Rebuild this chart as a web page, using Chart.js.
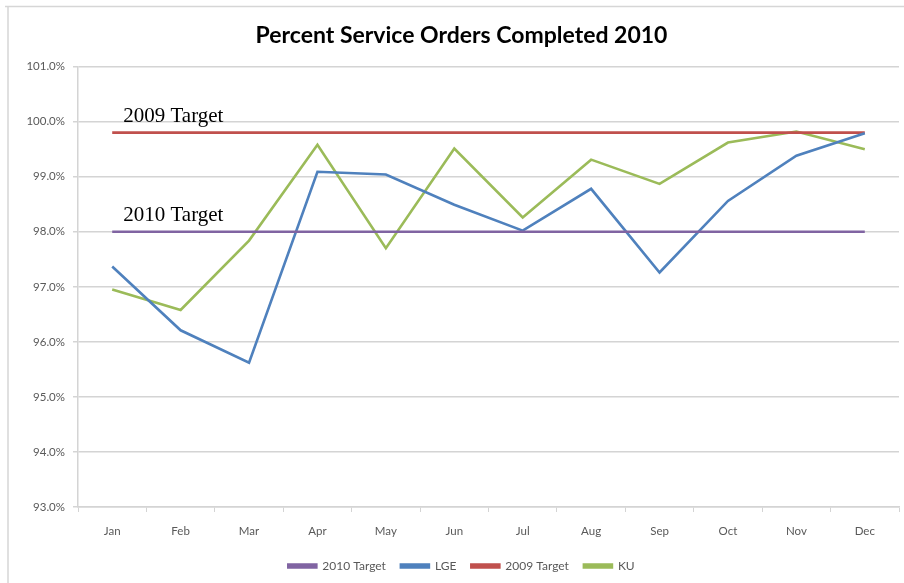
<!DOCTYPE html>
<html>
<head>
<meta charset="utf-8">
<script src="https://cdn.jsdelivr.net/npm/chart.js@4/dist/chart.umd.min.js"></script>
<style>
html,body{margin:0;padding:0;background:#fff;}
#wrap{position:relative;width:904px;height:583px;}
canvas{display:block;}
</style>
</head>
<body>
<div id="wrap"><canvas id="c" width="904" height="583"></canvas></div>
<script>
const months = ['Jan','Feb','Mar','Apr','May','Jun','Jul','Aug','Sep','Oct','Nov','Dec'];
const target2010 = [98.0,98.0,98.0,98.0,98.0,98.0,98.0,98.0,98.0,98.0,98.0,98.0];
const lge = [97.37,96.21,95.62,99.09,99.04,98.49,98.02,98.78,97.26,98.56,99.38,99.79];
const target2009 = [99.8,99.8,99.8,99.8,99.8,99.8,99.8,99.8,99.8,99.8,99.8,99.8];
const ku = [96.95,96.58,97.84,99.58,97.70,99.51,98.26,99.31,98.87,99.62,99.82,99.50];
const yMin = 93, yMax = 101, yStep = 1;
const targetLabels = [{text:'2009 Target', value:99.8}, {text:'2010 Target', value:98.0}];

const tickColor = '#595959';
const gridColor = '#d4d4d4';
const baseFont = 'Lato, "Open Sans", sans-serif';

const framePlugin = {
  id: 'frame',
  beforeDraw(chart) {
    const ctx = chart.ctx;
    ctx.save();
    ctx.strokeStyle = '#d6d6d6';
    ctx.lineWidth = 1.5;
    ctx.beginPath();
    ctx.moveTo(5, 6.5); ctx.lineTo(904, 6.5);
    ctx.moveTo(8, 6.5); ctx.lineTo(8, 583);
    ctx.stroke();
    ctx.restore();
  }
};

const targetTextPlugin = {
  id: 'targetText',
  afterDatasetsDraw(chart) {
    const ctx = chart.ctx;
    const xs = chart.scales.x, ys = chart.scales.y;
    ctx.save();
    ctx.font = '21px "Liberation Serif", "Times New Roman", serif';
    ctx.fillStyle = '#000';
    ctx.textAlign = 'left';
    ctx.textBaseline = 'alphabetic';
    targetLabels.forEach(t => {
      const x = xs.getPixelForValue(0) + 11;
      const y = ys.getPixelForValue(t.value) - 10.5;
      ctx.fillText(t.text, x, y);
    });
    ctx.restore();
  }
};

const mk = (label, data, color) => ({
  label, data, borderColor: color, backgroundColor: color,
  borderWidth: 2.6, pointRadius: 0, pointHoverRadius: 0, tension: 0, fill: false
});

new Chart(document.getElementById('c'), {
  type: 'line',
  data: {
    labels: months,
    datasets: [
      mk('2010 Target', target2010, '#8064A2'),
      mk('LGE', lge, '#4F81BD'),
      mk('2009 Target', target2009, '#C0504D'),
      mk('KU', ku, '#9BBB59')
    ]
  },
  options: {
    responsive: false,
    animation: false,
    layout: {padding: {left: 24, right: 5, top: 10, bottom: 1}},
    plugins: {
      title: {
        display: true,
        text: 'Percent Service Orders Completed 2010',
        color: '#000',
        font: {family: baseFont, size: 23, weight: 'bold'},
        padding: {top: 12, bottom: 17}
      },
      legend: {
        position: 'bottom',
        labels: {
          color: tickColor,
          font: {family: baseFont, size: 12},
          boxWidth: 28,
          boxHeight: 3,
          padding: 15
        }
      },
      tooltip: {enabled: false}
    },
    scales: {
      x: {
        offset: true,
        grid: {display: true, drawOnChartArea: false, drawTicks: true, tickLength: 5, color: gridColor, offset: true},
        border: {display: true, color: gridColor, width: 1.5},
        ticks: {color: tickColor, font: {family: baseFont, size: 11.5}, padding: 12, maxRotation: 0},
        afterFit(s) { s.height = 38; }
      },
      y: {
        min: yMin, max: yMax,
        grid: {color: gridColor, lineWidth: 1.5, tickLength: 5},
        border: {display: true, color: gridColor, width: 1.5},
        ticks: {
          stepSize: yStep,
          color: tickColor,
          font: {family: baseFont, size: 11.5},
          padding: 8,
          callback: v => v.toFixed(1) + '%'
        },
        afterFit(s) { s.width = 54; }
      }
    }
  },
  plugins: [framePlugin, targetTextPlugin]
});
</script>
</body>
</html>
